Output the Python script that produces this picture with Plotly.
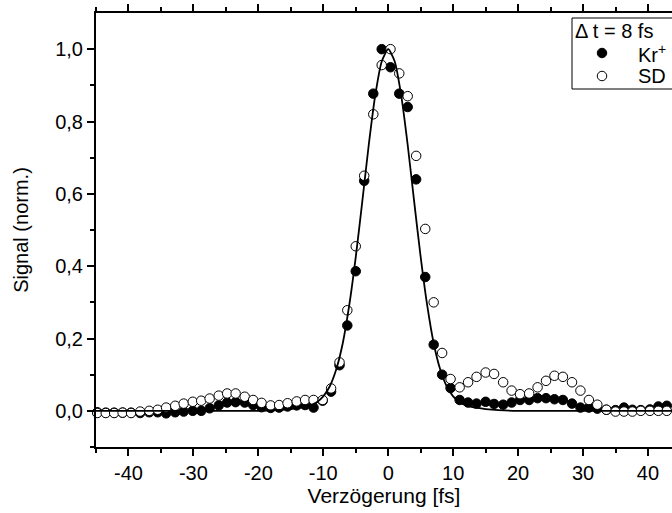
import plotly.graph_objects as go

# Fit curve
fit_x = [-45, -20, -17, -15, -13, -12, -11, -10, -9, -8, -7, -6, -5, -4, -3, -2, -1, 0,
         1, 2, 3, 4, 5, 6, 7, 8, 9, 10, 11, 12, 13, 15, 17, 20, 45]
fit_y = [0, 0, 0.002, 0.005, 0.010, 0.015, 0.024, 0.040, 0.068, 0.115, 0.187, 0.292, 0.425,
         0.578, 0.735, 0.872, 0.966, 1.0, 0.966, 0.872, 0.735, 0.578, 0.425, 0.292, 0.187,
         0.115, 0.068, 0.040, 0.024, 0.015, 0.010, 0.005, 0.002, 0, 0]

# Kr+ (filled circles)
kr_x = [-44.8, -43.5, -42.2, -40.9, -39.6, -38.2, -36.8, -35.5, -34.2, -32.8, -31.5, -30.1,
        -28.8, -27.5, -26.1, -24.8, -23.5, -22.1, -20.8, -19.5, -18.1, -16.8, -15.5, -14.1,
        -12.8, -11.5, -10.1, -8.8, -7.5, -6.3, -5.0, -3.7, -2.3, -1.0, 0.35, 1.7, 3.0, 4.3,
        5.7, 7.0, 8.3, 9.6, 11.0, 12.3, 13.6, 15.0, 16.3, 17.7, 19.0, 20.3, 21.7, 23.0, 24.3,
        25.6, 26.9, 28.3, 29.6, 30.9, 32.2, 33.6, 35.0, 36.3, 37.6, 38.9, 40.3, 41.6, 42.9, 44.3]
kr_y = [-0.004, -0.005, -0.005, -0.005, -0.005, -0.006, -0.004, -0.004, -0.007, -0.004, -0.002, 0.0,
        0.0, 0.007, 0.015, 0.023, 0.024, 0.023, 0.016, 0.010, 0.008, 0.009, 0.012, 0.015,
        0.016, 0.009, 0.028, 0.053, 0.126, 0.236, 0.386, 0.636, 0.877, 1.0, 0.95, 0.877, 0.84, 0.64,
        0.37, 0.183, 0.10, 0.063, 0.030, 0.023, 0.020, 0.025, 0.019, 0.017, 0.023, 0.030, 0.030, 0.035, 0.035,
        0.032, 0.030, 0.020, 0.009, 0.009, 0.006, 0.003, 0.002, 0.009, 0.003, 0.002, 0.004, 0.012, 0.014, 0.010]

# SD (open circles)
sd_x = kr_x
sd_y = [-0.006, -0.006, -0.006, -0.005, -0.006, -0.002, 0.0, 0.003, 0.009, 0.014, 0.020, 0.025,
        0.028, 0.034, 0.042, 0.048, 0.048, 0.039, 0.030, 0.022, 0.015, 0.016, 0.021, 0.026,
        0.030, 0.030, 0.030, 0.062, 0.134, 0.278, 0.455, 0.65, 0.82, 0.956, 1.0, 0.933, 0.87, 0.705,
        0.503, 0.30, 0.16, 0.088, 0.065, 0.079, 0.094, 0.106, 0.102, 0.079, 0.056, 0.046, 0.048, 0.065, 0.083,
        0.097, 0.094, 0.079, 0.056, 0.030, 0.017, 0.003, -0.002, -0.002, -0.002, 0.0, 0.0, 0.0, 0.0, 0.0]

x_ticks = [-40, -30, -20, -10, 0, 10, 20, 30, 40]
x_ticktext = ["-40", "-30", "-20", "-10", "0", "10", "20", "30", "40"]
y_ticks = [0.0, 0.2, 0.4, 0.6, 0.8, 1.0]
y_ticktext = ["0,0", "0,2", "0,4", "0,6", "0,8", "1,0"]

legend_title = "Δ t = 8 fs"
legend_names = ["Kr<sup>+</sup>", "SD"]

FONT = "Liberation Sans, Arial, sans-serif"
W, H = 672, 513
ML, MR, MT, MB = 96, 0, 13, 66
PW, PH = W - ML - MR, H - MT - MB


def px_x(p):
    return (p - ML) / PW


def px_y(p):
    return (H - MB - p) / PH


MARK = dict(symbol="circle", size=9.5, line=dict(color="black", width=1))

fig = go.Figure()
fig.add_trace(go.Scatter(x=kr_x, y=kr_y, mode="markers", name=legend_names[0], showlegend=False,
                         marker=dict(MARK, color="black"), cliponaxis=False))
fig.add_trace(go.Scatter(x=sd_x, y=sd_y, mode="markers", name=legend_names[1], showlegend=False,
                         marker=dict(MARK, color="white"), cliponaxis=False))
fig.add_trace(go.Scatter(x=fit_x, y=fit_y, mode="lines", showlegend=False,
                         line=dict(color="black", width=1.8, shape="spline", smoothing=0.6)))

# legend (manual, box cut at right edge like the reference)
leg_rows = [53, 76]
fig.add_trace(go.Scatter(x=[px_x(602)] * 2, y=[px_y(r) for r in leg_rows], mode="markers",
                         xaxis="x2", yaxis="y2", showlegend=False, hoverinfo="skip",
                         marker=dict(MARK, color=["black", "white"]), cliponaxis=False))

axis_common = dict(showgrid=False, zeroline=False, showline=True, linecolor="black",
                   linewidth=2, ticks="outside", tickcolor="black", tickwidth=2,
                   tickfont=dict(family=FONT, size=20, color="black"))

fig.update_layout(xaxis=dict(range=[-45, 43.7], tickmode="array", tickvals=x_ticks, ticktext=x_ticktext,
                             ticklen=7, mirror="ticks",
                             minor=dict(tickvals=[-45, -35, -25, -15, -5, 5, 15, 25, 35], ticklen=4,
                                        tickwidth=2, tickcolor="black", ticks="outside"),
                             title=dict(text="Verzögerung [fs]",
                                        font=dict(family=FONT, size=21, color="black"), standoff=4),
                             **axis_common),
                  yaxis=dict(range=[-0.1, 1.1], tickmode="array", tickvals=y_ticks, ticktext=y_ticktext,
                             ticklen=7,
                             minor=dict(tickvals=[-0.1, 0.1, 0.3, 0.5, 0.7, 0.9], ticklen=4,
                                        tickwidth=2, tickcolor="black", ticks="outside"),
                             title=dict(text="Signal (norm.)",
                                        font=dict(family=FONT, size=20, color="black"), standoff=21),
                             **axis_common),
                  xaxis2=dict(overlaying="x", range=[0, 1], visible=False, fixedrange=True),
                  yaxis2=dict(overlaying="y", range=[0, 1], visible=False, fixedrange=True))

fig.add_shape(type="rect", xref="paper", yref="paper",
              x0=px_x(572), x1=px_x(720), y0=px_y(89), y1=px_y(18),
              line=dict(color="black", width=1), fillcolor="rgba(0,0,0,0)", layer="above")
fig.add_annotation(xref="paper", yref="paper", x=px_x(573), y=px_y(31), xanchor="left",
                   yanchor="middle", text=legend_title, showarrow=False,
                   font=dict(family=FONT, size=20, color="black"))
for name, r in zip(legend_names, leg_rows):
    fig.add_annotation(xref="paper", yref="paper", x=px_x(636), y=px_y(r), xanchor="left",
                       yanchor="middle", text=name, showarrow=False,
                       font=dict(family=FONT, size=20, color="black"))

fig.update_layout(
    width=W, height=H,
    margin=dict(l=ML, r=MR, t=MT, b=MB),
    plot_bgcolor="white", paper_bgcolor="white",
    showlegend=False,
)

fig.write_html("out.html")
